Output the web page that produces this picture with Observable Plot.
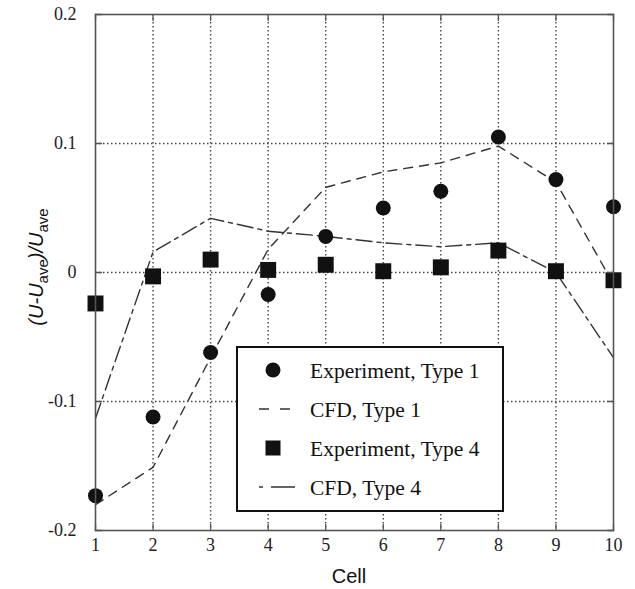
<!DOCTYPE html>
<html><head><meta charset="utf-8">
<script src="https://cdn.jsdelivr.net/npm/d3@7"></script>
<script src="https://cdn.jsdelivr.net/npm/@observablehq/plot@0.6"></script>
<style>html,body{margin:0;padding:0;background:#fff} svg{display:block}</style>
</head><body><div id="chart"></div>
<script>
// ---- data ----
const cells    = [1, 2, 3, 4, 5, 6, 7, 8, 9, 10];
const expType1 = [-0.173, -0.112, -0.062, -0.017, 0.028, 0.050, 0.063, 0.105, 0.072, 0.051];
const cfdType1 = [-0.180, -0.151, -0.066, 0.018, 0.066, 0.078, 0.085, 0.098, 0.070, -0.009];
const expType4 = [-0.024, -0.003, 0.010, 0.002, 0.006, 0.001, 0.004, 0.017, 0.001, -0.006];
const cfdType4 = [-0.113, 0.016, 0.042, 0.032, 0.028, 0.023, 0.020, 0.023, 0.000, -0.066];
const xTicks = [1, 2, 3, 4, 5, 6, 7, 8, 9, 10];
const yTicks = [-0.2, -0.1, 0, 0.1, 0.2];
const gridX = [2, 3, 4, 5, 6, 7, 8, 9];
const gridY = [-0.1, 0, 0.1];
const legendLabels = ["Experiment, Type 1", "CFD, Type 1", "Experiment, Type 4", "CFD, Type 4"];
const xTitle = "Cell";

// ---- layout / style ----
const W = 635, H = 589;
const ink = "#111", gridC = "#444", lineC = "#333", frameC = "#555";
const dash1 = "9,7", dash4 = "16,5,4,5";
const serif = "'Liberation Serif','Times New Roman',serif";
const sans = "'Liberation Sans',Arial,sans-serif";

const rows = cells.map((c, i) => ({cell: c, e1: expType1[i], c1: cfdType1[i], e4: expType4[i], c4: cfdType4[i]}));
const tickShape = {draw(ctx, l) { ctx.moveTo(0, 0); ctx.lineTo(0, -l); }};
const yMin = yTicks[0], yMax = yTicks[yTicks.length - 1];
const xMin = xTicks[0], xMax = xTicks[xTicks.length - 1];

const plot = Plot.plot({
  width: W, height: H,
  marginLeft: 95, marginRight: 22, marginTop: 14, marginBottom: 59,
  style: {fontFamily: serif, fontSize: "18px", color: "#222", background: "#fff", overflow: "visible"},
  x: {domain: [xMin, xMax]},
  y: {domain: [yMin, yMax]},
  marks: [
    Plot.ruleX(gridX, {stroke: gridC, strokeWidth: 1.4, strokeDasharray: "1.5,2.5"}),
    Plot.ruleY(gridY, {stroke: gridC, strokeWidth: 1.4, strokeDasharray: "1.5,2.5"}),
    Plot.line(rows, {x: "cell", y: "c1", stroke: lineC, strokeWidth: 1.4, strokeDasharray: dash1}),
    Plot.line(rows, {x: "cell", y: "c4", stroke: lineC, strokeWidth: 1.4, strokeDasharray: dash4}),
    Plot.dot(rows, {x: "cell", y: "e1", r: 7.5, fill: ink, symbol: "circle"}),
    Plot.dot(rows, {x: "cell", y: "e4", r: 9, fill: ink, symbol: "square"}),
    // inward tick marks (mirrored)
    Plot.vector(xTicks, {x: d => d, y: yMin, length: 6, rotate: 0, anchor: "start", shape: tickShape, stroke: frameC, strokeWidth: 1.3}),
    Plot.vector(xTicks, {x: d => d, y: yMax, length: 6, rotate: 180, anchor: "start", shape: tickShape, stroke: frameC, strokeWidth: 1.3}),
    Plot.vector(yTicks, {x: xMin, y: d => d, length: 6, rotate: 90, anchor: "start", shape: tickShape, stroke: frameC, strokeWidth: 1.3}),
    Plot.vector(yTicks, {x: xMax, y: d => d, length: 6, rotate: -90, anchor: "start", shape: tickShape, stroke: frameC, strokeWidth: 1.3}),
    Plot.frame({stroke: frameC, strokeWidth: 1.6}),
    Plot.axisX({ticks: xTicks, tickSize: 0, tickPadding: 8, tickFormat: d => String(d), label: null}),
    Plot.axisY({ticks: yTicks, tickSize: 0, tickPadding: 19, tickFormat: d => String(d), label: null})
  ]
});
document.getElementById("chart").appendChild(plot);

const svg = d3.select(plot);
// x title
svg.append("text").attr("x", 349).attr("y", 583).attr("text-anchor", "middle")
  .attr("font-family", sans).attr("font-size", 20).attr("fill", "#111").text(xTitle);
// y title  (U-U_ave)/U_ave
const yt = svg.append("text").attr("transform", "translate(43,267) rotate(-90)")
  .attr("text-anchor", "middle").attr("font-family", sans).attr("font-size", 20).attr("fill", "#111");
yt.append("tspan").attr("font-style", "italic").text("(U-U");
yt.append("tspan").attr("font-size", 15).attr("dy", 5).text("ave");
yt.append("tspan").attr("font-style", "italic").attr("dy", -5).text(")/U");
yt.append("tspan").attr("font-size", 15).attr("dy", 5).text("ave");

// legend
const lg = svg.append("g");
lg.append("rect").attr("x", 237).attr("y", 347).attr("width", 266).attr("height", 164)
  .attr("fill", "#fff").attr("stroke", ink).attr("stroke-width", 2);
const rowY = [370, 409, 448, 487];
const symX = 273, txtX = 310;
lg.append("circle").attr("cx", symX).attr("cy", rowY[0]).attr("r", 7.5).attr("fill", ink);
lg.append("line").attr("x1", 259).attr("x2", 292).attr("y1", rowY[1]).attr("y2", rowY[1])
  .attr("stroke", lineC).attr("stroke-width", 1.4).attr("stroke-dasharray", "10,11");
lg.append("rect").attr("x", symX - 7.5).attr("y", rowY[2] - 7.5).attr("width", 15).attr("height", 15).attr("fill", ink);
lg.append("line").attr("x1", 259).attr("x2", 295).attr("y1", rowY[3]).attr("y2", rowY[3])
  .attr("stroke", lineC).attr("stroke-width", 1.4).attr("stroke-dasharray", "4,8,24");
legendLabels.forEach((t, i) => {
  lg.append("text").attr("x", txtX).attr("y", rowY[i]).attr("dy", "0.35em").attr("text-anchor", "start")
    .attr("font-family", serif).attr("font-size", 21.5).attr("fill", "#111").text(t);
});
</script>
</body></html>
